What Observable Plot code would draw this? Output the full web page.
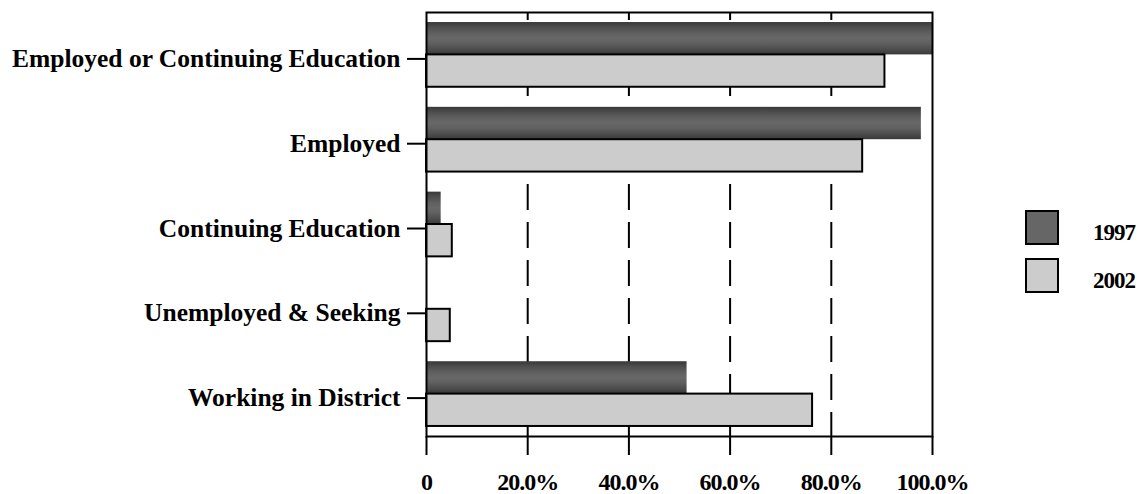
<!DOCTYPE html>
<html>
<head>
<meta charset="utf-8">
<script src="https://cdn.jsdelivr.net/npm/d3@7"></script>
<script src="https://cdn.jsdelivr.net/npm/@observablehq/plot@0.6"></script>
<style>
  body { margin: 0; background: #fff; }
  #wrap { position: relative; width: 1143px; height: 494px; }
  svg [aria-label="x-axis tick label"] { letter-spacing: -1px; }
  .legend { position: absolute; left: 1025px; top: 210px; font-family: "Liberation Serif", serif; font-weight: bold; font-size: 23px; color: #000; }
  .legend .item { position: relative; height: 48px; }
  .legend .sw { position: absolute; left: 0; top: 0; width: 30px; height: 31px; border: 2px solid #000; }
  .legend .lb { position: absolute; left: 68px; top: 11px; line-height: 23px; letter-spacing: -1px; }
</style>
</head>
<body>
<div id="wrap"></div>
<script>
const categories = ["Employed or Continuing Education", "Employed", "Continuing Education", "Unemployed & Seeking", "Working in District"];
const years = ["1997", "2002"];
const values1997 = [100, 97.8, 2.9, 0.2, 51.5];
const values2002 = [90.6, 86.2, 5.1, 4.7, 76.3];
const xTicks = [0, 20, 40, 60, 80, 100];
const xTickLabels = ["0", "20.0%", "40.0%", "60.0%", "80.0%", "100.0%"];
const gridTicks = [20, 40, 60, 80];
const legendColors = ["#666666", "#cccccc"];

const rows = [];
categories.forEach((c, i) => {
  rows.push({category: c, year: years[0], value: values1997[i]});
  rows.push({category: c, year: years[1], value: values2002[i]});
});
const rows97 = rows.filter(d => d.year === years[0]);
const rows02 = rows.filter(d => d.year === years[1]);

const W = 1143, H = 494, mL = 426, mR = 211, mT = 12, mB = 58;
const plotH = H - mT - mB;

const plot = Plot.plot({
  width: W,
  height: H,
  marginLeft: mL,
  marginRight: mR,
  marginTop: mT,
  marginBottom: mB,
  style: {fontFamily: '"Liberation Serif", serif', fontWeight: "bold", fontSize: "24px", color: "#000", background: "transparent"},
  x: {domain: [0, 100]},
  y: {domain: years, axis: null, paddingInner: 0, paddingOuter: 0.31, round: false},
  fy: {domain: categories, padding: 0, axis: null, round: false},
  marks: [
    Plot.axisX({ticks: gridTicks, tickSize: -plotH, tickFormat: () => "", strokeWidth: 2, strokeDasharray: "26,12", strokeDashoffset: 2, label: null}),
    Plot.barX(rows97, {x: "value", y: "year", fy: "category", fill: "url(#darkGrad)"}),
    Plot.ruleX(rows97, {x: "value", y: "year", fy: "category", stroke: "#000", strokeWidth: 2}),
    Plot.barX(rows02, {x: "value", y: "year", fy: "category", fill: "#cccccc", stroke: "#000", strokeWidth: 2}),
    Plot.frame({facet: "super", stroke: "#000", strokeWidth: 2}),
    Plot.axisX({ticks: xTicks, tickFormat: d => xTickLabels[xTicks.indexOf(d)], tickSize: 19, tickPadding: 17, strokeWidth: 2, fontSize: 24, label: null}),
    Plot.axisFy({anchor: "left", tickSize: 19, tickPadding: 7, strokeWidth: 2, fontSize: 25.5, dy: 4, label: null})
  ]
});

const ns = "http://www.w3.org/2000/svg";
const defs = document.createElementNS(ns, "defs");
defs.innerHTML = `<linearGradient id="darkGrad" x1="0" y1="0" x2="0" y2="1">
  <stop offset="0" stop-color="#383838"/>
  <stop offset="0.15" stop-color="#4c4c4c"/>
  <stop offset="0.35" stop-color="#606060"/>
  <stop offset="0.5" stop-color="#686868"/>
  <stop offset="0.65" stop-color="#606060"/>
  <stop offset="0.85" stop-color="#4c4c4c"/>
  <stop offset="1" stop-color="#383838"/>
</linearGradient>`;
plot.insertBefore(defs, plot.firstChild);

const wrap = document.getElementById("wrap");
wrap.appendChild(plot);

const legend = document.createElement("div");
legend.className = "legend";
years.forEach((y, i) => {
  const item = document.createElement("div");
  item.className = "item";
  const sw = document.createElement("div");
  sw.className = "sw";
  sw.style.background = legendColors[i];
  const lb = document.createElement("div");
  lb.className = "lb";
  lb.textContent = y;
  item.appendChild(sw);
  item.appendChild(lb);
  legend.appendChild(item);
});
wrap.appendChild(legend);
</script>
</body>
</html>
